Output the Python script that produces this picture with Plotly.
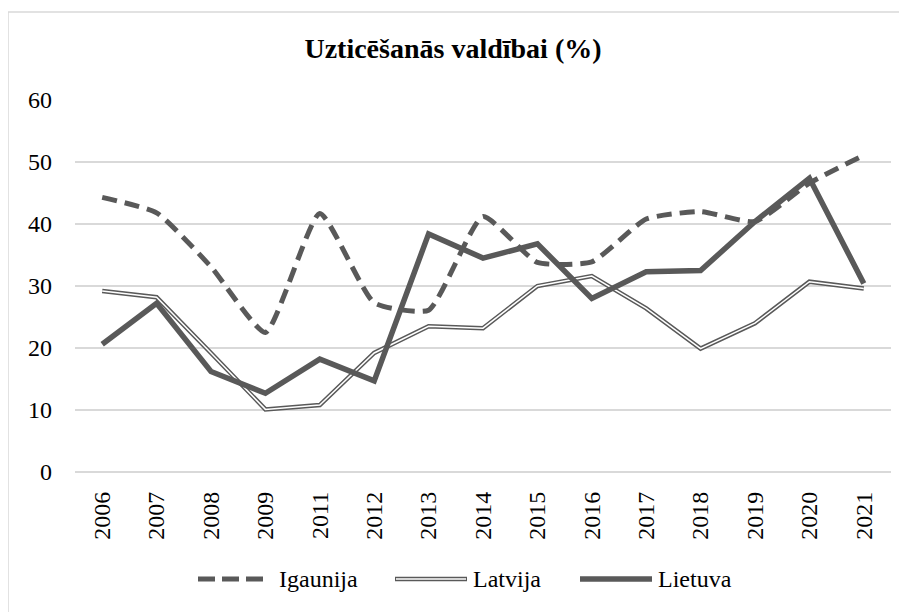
import plotly.graph_objects as go

years = ["2006", "2007", "2008", "2009", "2011", "2012", "2013", "2014",
         "2015", "2016", "2017", "2018", "2019", "2020", "2021"]
igaunija = [44.3, 41.8, 33.1, 22.5, 41.7, 27.3, 26.1, 41.2, 33.8, 33.9, 40.8, 42.0, 40.4, 46.6, 51.1]
latvija = [29.2, 28.2, 19.2, 10.1, 10.8, 19.2, 23.5, 23.2, 30.0, 31.6, 26.4, 19.9, 24.0, 30.7, 29.6]
lietuva = [20.6, 27.2, 16.2, 12.7, 18.2, 14.7, 38.4, 34.5, 36.8, 28.0, 32.3, 32.5, 40.4, 47.4, 30.4]
series_names = ["Igaunija", "Latvija", "Lietuva"]
title_text = "Uzticēšanās valdībai (%)"
y_ticks = [0, 10, 20, 30, 40, 50, 60]

C = "#595959"
GRID = "#d9d9d9"
FONT = "'Liberation Serif', 'DejaVu Serif', 'Times New Roman', serif"

fig = go.Figure()
fig.add_trace(go.Scatter(x=years, y=igaunija, mode="lines", name=series_names[0],
                         line=dict(color=C, width=5, dash="15px,8px", shape="spline", smoothing=0.5),
                         showlegend=False))
fig.add_trace(go.Scatter(x=years, y=latvija, mode="lines", name=series_names[1],
                         line=dict(color=C, width=4.5), showlegend=False))
fig.add_trace(go.Scatter(x=years, y=latvija, mode="lines", name=series_names[1],
                         line=dict(color="white", width=1.5), showlegend=False, hoverinfo="skip"))
fig.add_trace(go.Scatter(x=years, y=lietuva, mode="lines", name=series_names[2],
                         line=dict(color=C, width=5.5), showlegend=False))

# page has an 8px body margin: positions below are in page pixels, converted with OFF
OFF = 8
W, H = 907, 612
L, R, T, B = 75 - OFF, 16 + OFF, 100 - OFF, 140 + OFF
pw, ph = W - L - R, H - T - B

def px(x):
    return (x - OFF - L) / pw

def py(y):
    return (H - B - (y - OFF)) / ph

shapes = []
shapes.append(dict(type="line", xref="paper", yref="paper", x0=px(8), x1=px(W + 20), y0=py(12), y1=py(12),
                   line=dict(color=GRID, width=1.5)))
shapes.append(dict(type="line", xref="paper", yref="paper", x0=px(8), x1=px(8), y0=py(12), y1=py(H + 20),
                   line=dict(color=GRID, width=1.5)))

ly = 579
shapes.append(dict(type="line", xref="paper", yref="paper", x0=px(198), x1=px(263), y0=py(ly), y1=py(ly),
                   line=dict(color=C, width=5, dash="17px,7px")))
shapes.append(dict(type="line", xref="paper", yref="paper", x0=px(395), x1=px(467), y0=py(ly), y1=py(ly),
                   line=dict(color=C, width=4.5)))
shapes.append(dict(type="line", xref="paper", yref="paper", x0=px(396), x1=px(466), y0=py(ly), y1=py(ly),
                   line=dict(color="white", width=1.5)))
shapes.append(dict(type="line", xref="paper", yref="paper", x0=px(580), x1=px(652), y0=py(ly), y1=py(ly),
                   line=dict(color=C, width=5.5)))

annotations = []
for xx, name in [(277, series_names[0]), (471, series_names[1]), (656, series_names[2])]:
    annotations.append(dict(x=px(xx), y=py(ly), xref="paper", yref="paper", text=name, showarrow=False,
                            xanchor="left", yanchor="middle", font=dict(family=FONT, size=24, color="black")))

fig.update_layout(
    width=W, height=H,
    margin=dict(l=L, r=R, t=T, b=B),
    paper_bgcolor="white", plot_bgcolor="white",
    font=dict(family=FONT),
    title=dict(text="<b>" + title_text + "</b>", x=(453 - OFF) / W, xanchor="center",
               y=1 - (48 - OFF) / H, yanchor="middle",
               font=dict(family=FONT, size=28, color="black")),
    xaxis=dict(type="category", range=[-0.5, 14.5], showgrid=False, showline=False, zeroline=False,
               tickangle=-90, ticks="", ticklabelstandoff=14,
               tickfont=dict(family=FONT, size=24, color="black")),
    yaxis=dict(range=[0, 60], tickvals=y_ticks, showgrid=True, gridcolor=GRID, gridwidth=1.5,
               zeroline=True, zerolinecolor=GRID, zerolinewidth=1.5, showline=False,
               ticks="", ticklabelstandoff=22,
               tickfont=dict(family=FONT, size=24, color="black")),
    shapes=shapes, annotations=annotations,
    showlegend=False,
)

fig.write_html("out.html")
